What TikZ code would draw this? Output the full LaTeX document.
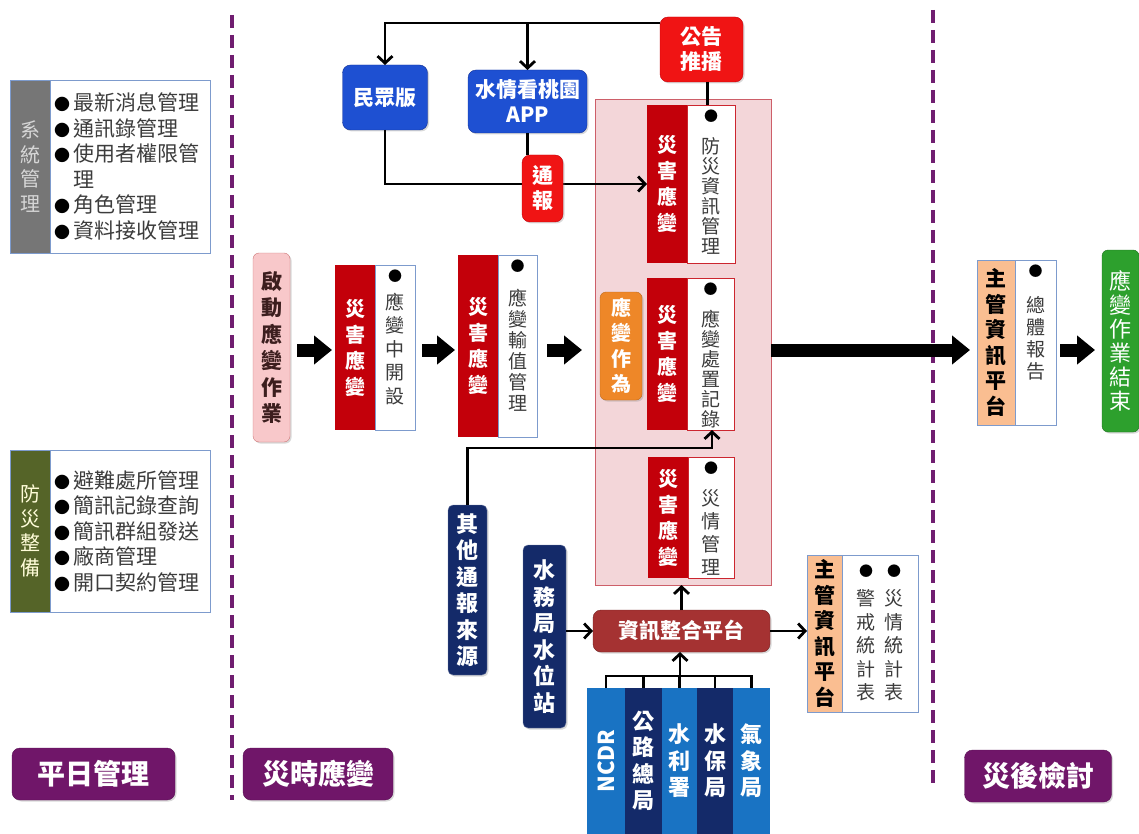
\documentclass[tikz,border=0pt]{standalone}
\usepackage{fontspec}
\usepackage{graphicx}
\setmainfont{Noto Sans CJK TC}
\usetikzlibrary{arrows.meta,shadows}
\definecolor{cpur}{RGB}{112,30,112}
\definecolor{clab}{RGB}{112,22,105}
\definecolor{cred}{RGB}{195,0,10}
\definecolor{cbright}{RGB}{240,20,20}
\definecolor{cpinkbg}{RGB}{243,214,217}
\definecolor{cpinkbd}{RGB}{205,95,105}
\definecolor{cblue}{RGB}{30,80,210}
\definecolor{cbluebd}{RGB}{20,50,150}
\definecolor{cnavy}{RGB}{20,42,105}
\definecolor{clblue}{RGB}{25,115,195}
\definecolor{corg}{RGB}{250,190,145}
\definecolor{corgtwo}{RGB}{238,135,40}
\definecolor{cgreen}{RGB}{45,160,45}
\definecolor{cgray}{RGB}{118,118,118}
\definecolor{colive}{RGB}{85,100,40}
\definecolor{cplat}{RGB}{165,50,50}
\definecolor{cframe}{RGB}{125,155,205}
\definecolor{ctxt}{RGB}{60,60,60}
\definecolor{cqd}{RGB}{248,200,202}
\definecolor{cqdbd}{RGB}{205,120,120}
\newcommand\bul{{\fontsize{14}{14}\selectfont\textcolor{black}{●}}}
\newcommand\lbul{{\fontsize{16}{16}\selectfont\textcolor{black}{●}}}
\newcommand\wcol[3]{\begin{minipage}[c][#1][t]{36pt}\centering\fontsize{19}{#2}\selectfont #3\end{minipage}}
\tikzset{
  every node/.style={inner sep=0pt, outer sep=0pt, align=center},
  shd/.style={drop shadow={shadow xshift=1.5pt, shadow yshift=-1.5pt, opacity=0.3}},
  pdash/.style={draw=cpur, line width=4.5pt, dash pattern=on 13pt off 7pt},
  plabel/.style={shd, fill=clab, draw=clab!80!black, rounded corners=8pt, text=white, font=\fontsize{28}{30}\selectfont\bfseries},
  lstrip/.style={minimum width=40pt, font=\fontsize{20}{24.5}\selectfont, draw=cframe, line width=0.8pt},
  lbox/.style={fill=white, draw=cframe, line width=0.8pt, align=left, text width=152pt, inner xsep=4pt, text=ctxt, font=\fontsize{21}{25.5}\selectfont},
  cstrip/.style={fill=cred, text=white, minimum width=40pt, font=\fontsize{20}{26}\selectfont\bfseries},
  ostrip/.style={fill=corg, draw=cframe, line width=0.8pt, text=black, font=\fontsize{21}{25.5}\selectfont\bfseries},
  wcard/.style={fill=white, draw=cframe, line width=0.8pt, inner ysep=5pt, text=ctxt},
  rcard/.style={wcard, draw=cred!85!white},
  bigarr/.style={line width=13pt, -{Triangle[length=18pt,width=28pt]}},
  arr/.style={line width=2.8pt, -{Straight Barb[length=7pt,width=15pt]}},
  ln/.style={line width=2.8pt},
  bluebox/.style={shd, fill=cblue, draw=cbluebd, rounded corners=8pt, text=white, font=\fontsize{21}{25}\selectfont\bfseries},
  redbox/.style={shd, fill=cbright, draw=cred, rounded corners=8pt, text=white, font=\fontsize{21}{25}\selectfont\bfseries},
  navybox/.style={shd, fill=cnavy, draw=cnavy!60!white, rounded corners=5pt, text=white, font=\fontsize{22}{26.5}\selectfont\bfseries},
  colbox/.style={minimum height=146pt, text=white, font=\fontsize{22}{26.5}\selectfont\bfseries},
  qdbox/.style={shd, fill=cqd, draw=cqdbd, rounded corners=6pt, text={rgb,255:red,60;green,30;blue,30}, font=\fontsize{21}{26.5}\selectfont\bfseries},
  orgbox/.style={shd, fill=corgtwo, draw=corgtwo!80!black, rounded corners=6pt, text=white, font=\fontsize{20}{25.5}\selectfont\bfseries},
  greenbox/.style={shd, fill=cgreen, draw=cgreen!70!black, rounded corners=6pt, text=white, font=\fontsize{22}{24}\selectfont},
  platbox/.style={shd, fill=cplat, draw=cplat!70!black, rounded corners=8pt, text=white, font=\fontsize{21}{24}\selectfont\bfseries},
  pinkbox/.style={fill=cpinkbg, draw=cpinkbd, line width=1pt}
}
\begin{document}
\begin{tikzpicture}[x=1pt,y=-1pt]
\useasboundingbox (0,0) rectangle (1139,834);
% phase separators
\draw[pdash] (232,15) -- (232,800);
\draw[pdash] (933,10) -- (933,790);

% left column
\node[lstrip, fill=cgray, text=cgray!30!white, minimum height=173pt] (sysS) at (30,166.5) {系\\統\\管\\理};
\node[lbox, minimum height=173pt] (sysW) at (130,166.5) {\lbul\,最新消息管理\\\lbul\,通訊錄管理\\\lbul\,使用者權限管\\\phantom{\lbul\,}理\\\lbul\,角色管理\\\lbul\,資料接收管理};
\node[lstrip, fill=colive, text=white!85!yellow, minimum height=162pt] (fzS) at (30,531) {防\\災\\整\\備};
\node[lbox, minimum height=162pt] (fzW) at (130,531) {\lbul\,避難處所管理\\\lbul\,簡訊記錄查詢\\\lbul\,簡訊群組發送\\\lbul\,廠商管理\\\lbul\,開口契約管理};

% phase labels
\node[plabel, minimum width=163pt, minimum height=52pt] (l1) at (93.5,774) {平日管理};
\node[plabel, minimum width=150pt, minimum height=52pt] (l2) at (318,774) {災時應變};
\node[plabel, minimum width=147pt, minimum height=52pt] (l3) at (1038,776) {災後檢討};

% main flow
\node[qdbox, minimum width=37pt, minimum height=189pt] (qd) at (271.5,347.5) {啟\\動\\應\\變\\作\\業};
\node[cstrip, minimum height=165pt] (c1r) at (355,347.5) {災\\害\\應\\變};
\node[wcard, minimum width=40pt] (c1w) at (395,347.5) {\wcol{155pt}{23.5pt}{\bul\\[4pt]應\\變\\中\\開\\設}};
\node[cstrip, minimum height=182pt] (c2r) at (478,346) {災\\害\\應\\變};
\node[wcard, minimum width=39pt] (c2w) at (517.5,346) {\wcol{172pt}{21pt}{\bul\\[13pt]應\\變\\輸\\值\\管\\理}};

\node[pinkbox, minimum width=176pt, minimum height=485pt] (pink) at (683,342.5) {};
\node[cstrip, minimum height=158pt] (ar) at (667,184) {災\\害\\應\\變};
\node[rcard, minimum width=48pt] (aw) at (711,184) {\wcol{148pt}{20pt}{\bul\\[12pt]防\\災\\資\\訊\\管\\理}};
\node[cstrip, minimum height=152pt] (cBr) at (667,354) {災\\害\\應\\變};
\node[rcard, minimum width=47pt] (cBw) at (710.5,354) {\wcol{142pt}{20pt}{\bul\\[12pt]應\\變\\處\\置\\記\\錄}};
\node[cstrip, minimum height=121pt] (cCr) at (668,517.5) {災\\害\\應\\變};
\node[rcard, minimum width=46pt] (cCw) at (711,517.5) {\wcol{111pt}{23pt}{\bul\\[9pt]災\\情\\管\\理}};
\node[orgbox, minimum width=42pt, minimum height=108pt] (yb) at (621,346) {應\\變\\作\\為};

\node[ostrip, minimum width=38pt, minimum height=165pt] (dr) at (996,342.5) {主\\管\\資\\訊\\平\\台};
\node[wcard, minimum width=41pt] (dw) at (1035.5,342.5) {\wcol{155pt}{22pt}{\bul\\[14pt]總\\體\\報\\告}};
\node[greenbox, minimum width=37pt, minimum height=182pt] (gr) at (1120.5,341) {應\\變\\作\\業\\結\\束};

\coordinate (ya) at (0,350);
\draw[bigarr, shorten <=7pt, shorten >=3pt] (qd.east |- ya) -- (c1r.west |- ya);
\draw[bigarr, shorten <=7pt, shorten >=3pt] (c1w.east |- ya) -- (c2r.west |- ya);
\draw[bigarr, shorten <=10pt, shorten >=13pt] (c2w.east |- ya) -- (pink.west |- ya);
\draw[bigarr, shorten >=7pt] (pink.east |- ya) -- (dr.west |- ya);
\draw[bigarr, shorten <=4pt, shorten >=7pt] (dw.east |- ya) -- (gr.west |- ya);

% top publishing
\node[bluebox, minimum width=85pt, minimum height=65pt] (mz) at (385,97.5) {民眾版};
\node[bluebox, minimum width=119pt, minimum height=63pt] (app) at (527.5,101.5) {水情看桃園\\APP};
\node[redbox, minimum width=83pt, minimum height=65pt] (gg) at (701.5,49.5) {公告\\推播};
\coordinate (ytop) at (0,23);
\draw[arr] (gg.west |- ytop) -| (mz.north);
\draw[arr] (app.north |- ytop) -- (app.north);
\coordinate (ggb) at ([xshift=6pt]gg.south);
\draw[ln] (ggb) -- (ggb |- aw.north);
\draw[arr] (mz.south) |- (ar.west);
\node[redbox, minimum width=41pt, minimum height=67pt] (tb) at (542.5,188.5) {通\\報};
\draw[ln] (app.south) -- (app.south |- tb.north);

% data sources
\node[navybox, minimum width=39pt, minimum height=170pt] (qt) at (467.5,590) {其\\他\\通\\報\\來\\源};
\node[navybox, minimum width=43pt, minimum height=183pt] (sw) at (544.5,636.5) {水\\務\\局\\水\\位\\站};
\node[platbox, minimum width=177pt, minimum height=42pt] (plat) at (681.5,631) {資訊整合平台};
\node[ostrip, minimum width=35pt, minimum height=157pt] (er) at (824.5,633.5) {主\\管\\資\\訊\\平\\台};
\node[wcard, minimum width=76pt] (ew) at (880,633.5) {\begin{minipage}[c][147pt][t]{70pt}\centering\fontsize{19}{23.5}\selectfont
\begin{tabular}{@{}c@{\hspace{9pt}}c@{}}\bul&\bul\\[6pt]警&災\\戒&情\\統&統\\計&計\\表&表\end{tabular}\end{minipage}};

\node[colbox, fill=clblue, minimum width=38pt] (ncdr) at (606,761) {\rotatebox{90}{NCDR}};
\node[colbox, fill=cnavy, minimum width=37pt] (gl) at (643.5,761) {公\\路\\總\\局};
\node[colbox, fill=clblue, minimum width=35pt] (sl) at (679.5,761) {水\\利\\署};
\node[colbox, fill=cnavy, minimum width=36pt] (sb) at (715,761) {水\\保\\局};
\node[colbox, fill=clblue, minimum width=37pt] (qx) at (751.5,761) {氣\\象\\局};

\coordinate (brk) at (680,676);
\draw[ln] (ncdr.north) -- (ncdr.north |- brk) -- (qx.north |- brk) -- (qx.north);
\draw[ln] (gl.north) -- (gl.north |- brk);
\draw[ln] (sl.north) -- (sl.north |- brk);
\draw[ln] (sb.north) -- (sb.north |- brk);
\draw[arr] (brk) -- (brk |- plat.south);
\draw[arr] (plat.north) -- (plat.north |- pink.south);
\draw[arr] (sw.east |- plat.west) -- (plat.west);
\draw[arr] (plat.east) -- (er.west |- plat.east);
\draw[arr] (qt.north) -- ++(0,-57) -| ([xshift=1.5pt]cBw.south);
\end{tikzpicture}
\end{document}
